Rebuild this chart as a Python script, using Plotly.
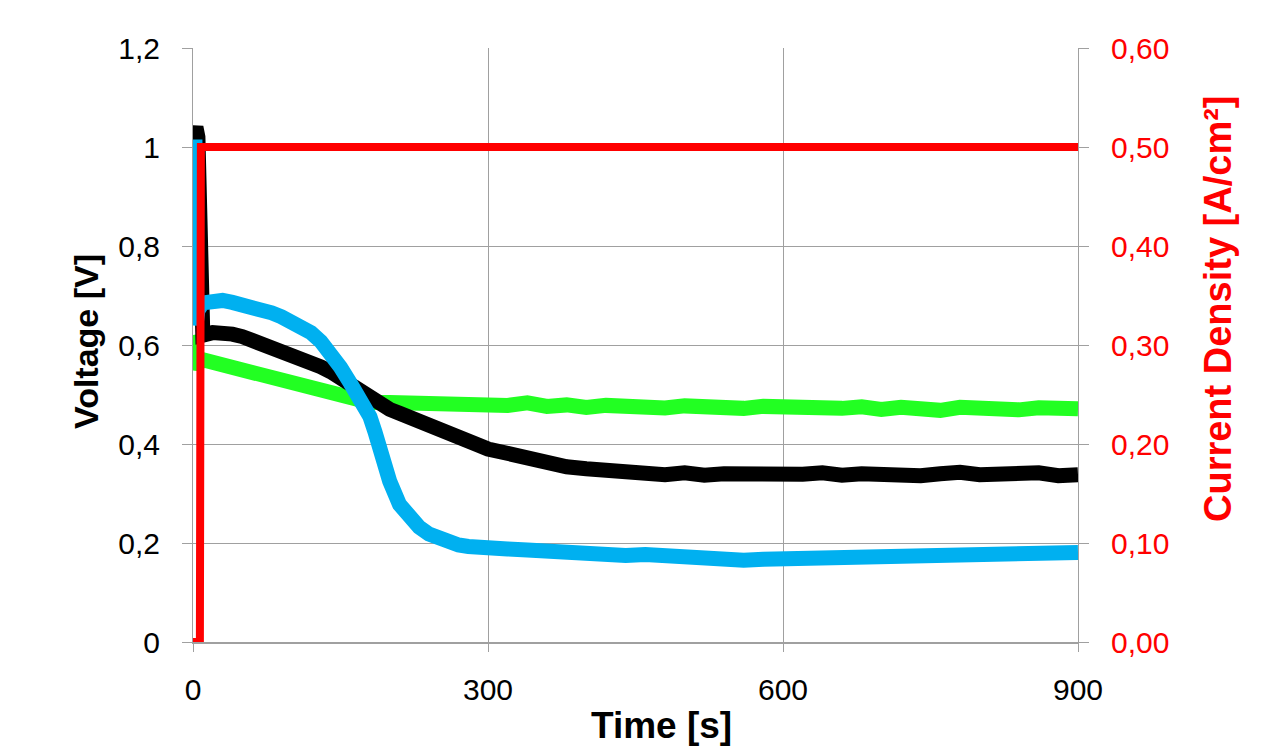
import plotly.graph_objects as go

# ---- data ----
t_black = [0, 3, 5, 7, 10, 20, 30, 40, 50, 60, 70, 80, 90, 100, 110, 120, 130, 140, 150,
           160, 170, 180, 190, 200, 210, 220, 230, 240, 250, 260, 270, 280, 290, 300,
           320, 340, 360, 380, 400, 420, 440, 460, 480, 500, 520, 540, 560, 580, 600,
           620, 640, 660, 680, 700, 720, 740, 760, 780, 800, 820, 840, 860, 880, 900]
v_black = [1.02, 1.04, 1.02, 0.62, 0.62, 0.625, 0.625, 0.622, 0.617, 0.61, 0.603, 0.596, 0.59, 0.583,
           0.575, 0.565, 0.556, 0.546, 0.533, 0.522, 0.505, 0.49, 0.482, 0.47, 0.462, 0.455,
           0.446, 0.437, 0.43, 0.422, 0.414, 0.405, 0.398, 0.39, 0.38, 0.37, 0.36, 0.354,
           0.35, 0.346, 0.343, 0.341, 0.338, 0.342, 0.337, 0.34, 0.338, 0.336, 0.341, 0.339,
           0.342, 0.337, 0.34, 0.338, 0.341, 0.336, 0.34, 0.343, 0.338, 0.34, 0.337, 0.342,
           0.336, 0.338]

t_blue = [0, 2, 3, 5, 10, 20, 30, 40, 50, 60, 70, 80, 90, 100, 110, 120, 130, 140, 150, 160,
          170, 180, 185, 190, 195, 200, 210, 220, 230, 240, 250, 260, 270, 280, 290, 300,
          320, 340, 360, 380, 400, 420, 440, 460, 480, 500, 520, 540, 560, 580, 600, 620,
          640, 660, 680, 700, 720, 740, 760, 780, 800, 820, 840, 860, 880, 900]
v_blue = [1.0, 1.0, 0.64, 0.67, 0.685, 0.69, 0.69, 0.686, 0.682, 0.677, 0.672, 0.665, 0.657,
          0.648, 0.638, 0.625, 0.607, 0.585, 0.555, 0.523, 0.49, 0.455, 0.425, 0.39, 0.355,
          0.325, 0.278, 0.25, 0.232, 0.218, 0.21, 0.2, 0.196, 0.193, 0.19, 0.19, 0.188, 0.186,
          0.183, 0.18, 0.177, 0.178, 0.175, 0.177, 0.174, 0.173, 0.17, 0.169, 0.165, 0.167,
          0.168, 0.17, 0.172, 0.17, 0.172, 0.174, 0.175, 0.176, 0.178, 0.177, 0.18, 0.181,
          0.183, 0.182, 0.184, 0.181]

t_green = [0, 2, 3, 6, 10, 20, 30, 40, 50, 60, 70, 80, 90, 100, 110, 120, 130, 140, 150, 160,
           170, 180, 200, 220, 240, 260, 280, 300, 320, 340, 360, 380, 400, 420, 440, 460,
           480, 500, 520, 540, 560, 580, 600, 620, 640, 660, 680, 700, 720, 740, 760, 780,
           800, 820, 840, 860, 880, 900]
v_green = [0.62, 0.6, 0.55, 0.57, 0.57, 0.565, 0.56, 0.555, 0.548, 0.543, 0.538, 0.532, 0.527,
           0.52, 0.513, 0.508, 0.503, 0.498, 0.494, 0.49, 0.487, 0.484, 0.484, 0.482, 0.486,
           0.478, 0.482, 0.48, 0.478, 0.483, 0.476, 0.479, 0.474, 0.478, 0.475, 0.479, 0.473,
           0.477, 0.474, 0.478, 0.472, 0.476, 0.474, 0.471, 0.476, 0.472, 0.475, 0.47, 0.474,
           0.471, 0.468, 0.474, 0.47, 0.472, 0.469, 0.473, 0.47, 0.471]

t_red = [0, 7, 8, 100, 200, 300, 400, 500, 600, 700, 800, 900]
j_red = [0.0, 0.0, 0.5, 0.5, 0.5, 0.5, 0.5, 0.5, 0.5, 0.5, 0.5, 0.5]

x_ticks = [0, 300, 600, 900]

FONT = "Liberation Sans, Arial, sans-serif"
GRID = "#a0a0a0"

fig = go.Figure()
fig.add_trace(go.Scatter(x=t_green, y=v_green, mode="lines",
                         line=dict(color="#22ff22", width=15), showlegend=False))
fig.add_trace(go.Scatter(x=t_black, y=v_black, mode="lines",
                         line=dict(color="#000000", width=15), showlegend=False))
fig.add_trace(go.Scatter(x=t_blue, y=v_blue, mode="lines",
                         line=dict(color="#00b0f0", width=15), showlegend=False))
fig.add_trace(go.Scatter(x=t_red, y=j_red, mode="lines", yaxis="y2",
                         line=dict(color="#ff0000", width=8), showlegend=False))

fig.update_layout(
    width=1285, height=746,
    margin=dict(l=193, r=207, t=48, b=104),
    paper_bgcolor="white", plot_bgcolor="white",
    separators=",.",
    font=dict(family=FONT, size=30, color="black"),
    xaxis=dict(
        range=[0, 900], tickvals=x_ticks, showgrid=True, gridcolor=GRID, gridwidth=1,
        showline=True, linecolor=GRID, linewidth=2, zeroline=False,
        ticks="outside", ticklen=8, tickcolor=GRID, ticklabelstandoff=12,
        tickfont=dict(family=FONT, size=30, color="black"),
    ),
    yaxis=dict(
        range=[0, 1.2], dtick=0.2, showgrid=True, gridcolor=GRID, gridwidth=1,
        showline=True, linecolor=GRID, linewidth=1, zeroline=False,
        ticks="outside", ticklen=10, tickcolor=GRID, ticklabelstandoff=16,
        tickfont=dict(family=FONT, size=30, color="black"),
    ),
    yaxis2=dict(
        range=[0, 0.6], dtick=0.1, tickformat=".2f", overlaying="y", side="right",
        showgrid=False, showline=True, linecolor=GRID, linewidth=1, zeroline=False,
        ticks="outside", ticklen=10, tickcolor=GRID, ticklabelstandoff=16,
        tickfont=dict(family=FONT, size=30, color="#ff0000"),
    ),
    annotations=[
        dict(text="<b>Time [s]</b>", xref="paper", yref="paper",
             x=(661 - 193) / 885, y=(642 - 725) / 594, xanchor="center", yanchor="middle",
             showarrow=False, font=dict(family=FONT, size=37, color="black")),
        dict(text="<b>Voltage [V]</b>", xref="paper", yref="paper",
             x=(86 - 193) / 885, y=(642 - 342) / 594, xanchor="center", yanchor="middle",
             textangle=-90, showarrow=False, font=dict(family=FONT, size=34, color="black")),
        dict(text="<b>Current Density [A/cm²]</b>", xref="paper", yref="paper",
             x=(1218 - 193) / 885, y=(642 - 309) / 594, xanchor="center", yanchor="middle",
             textangle=-90, showarrow=False, font=dict(family=FONT, size=38, color="#ff0000")),
    ],
)

fig.write_html("out.html")
